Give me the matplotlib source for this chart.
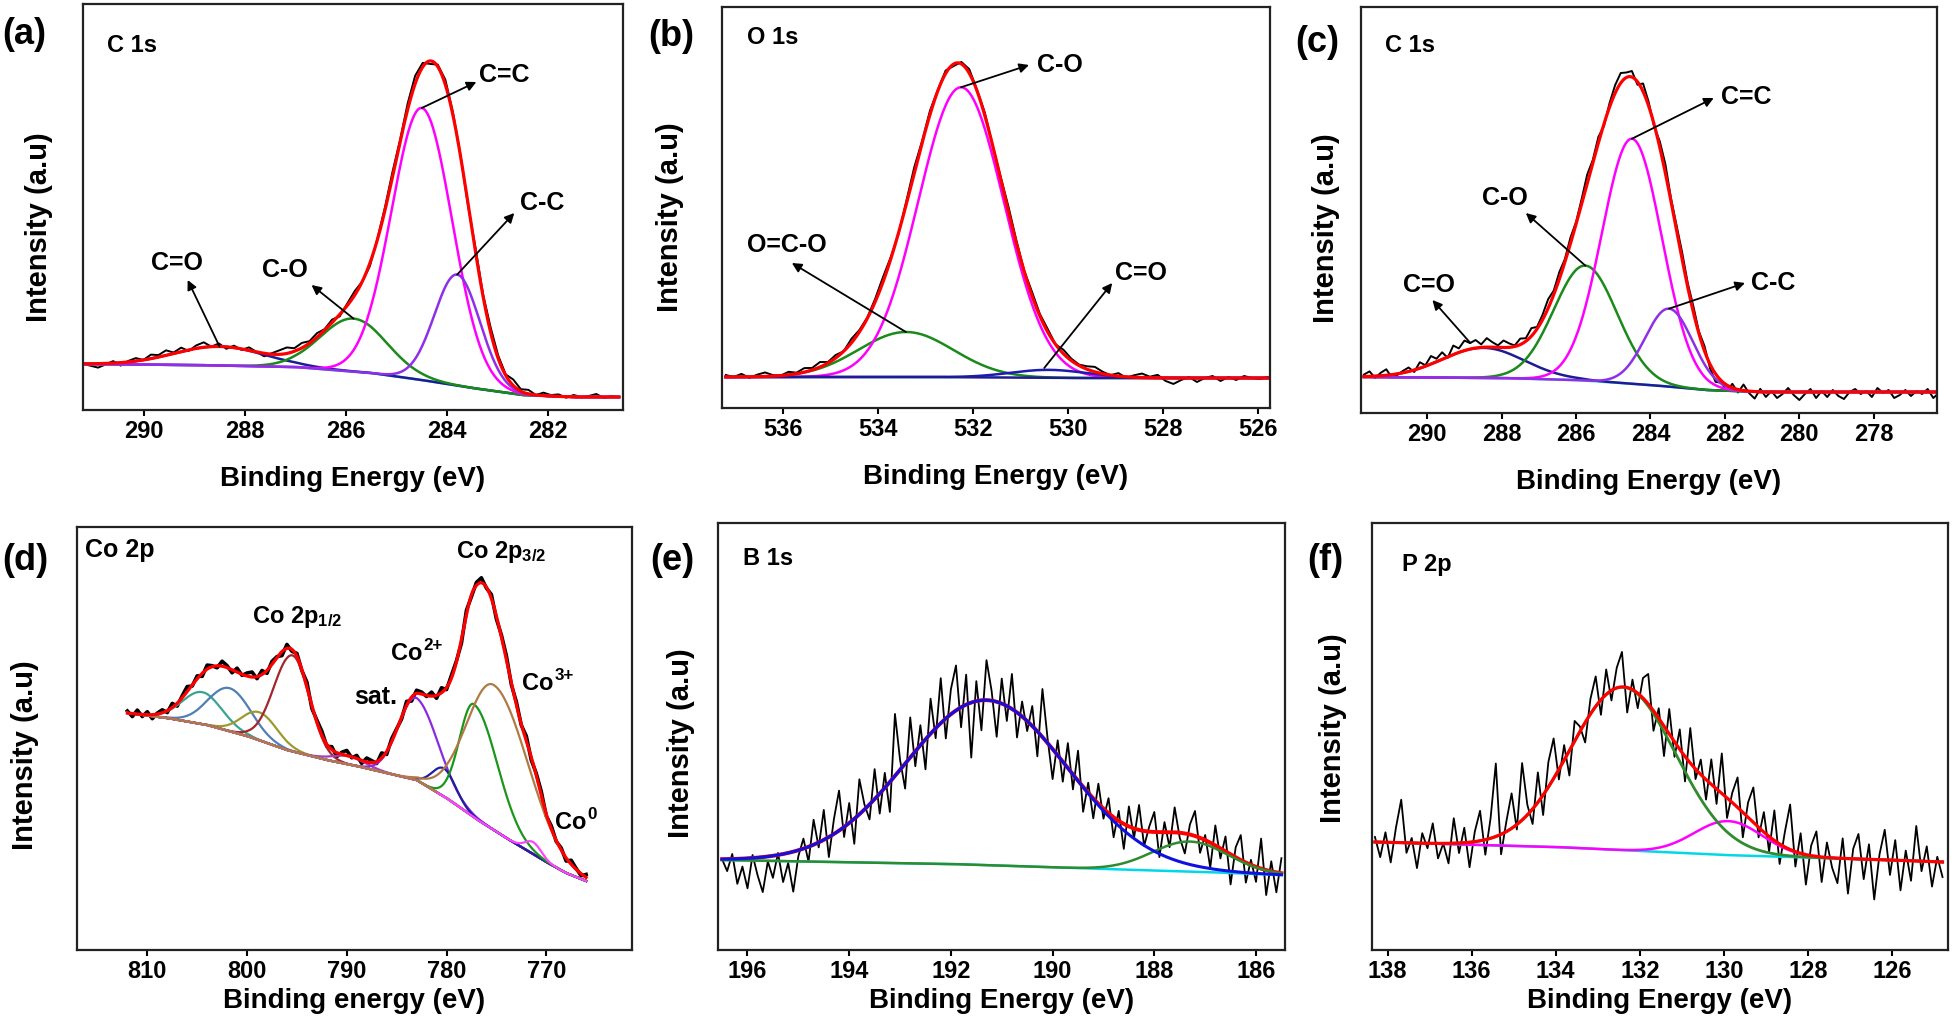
import numpy as np
import matplotlib
matplotlib.use('Agg')
import matplotlib.pyplot as plt

plt.rcParams['font.family'] = ['Liberation Sans', 'DejaVu Sans']
plt.rcParams['font.weight'] = 'bold'
plt.rcParams['axes.labelweight'] = 'bold'
plt.rcParams['mathtext.fontset'] = 'custom'
plt.rcParams['mathtext.rm'] = 'Liberation Sans:bold'
plt.rcParams['mathtext.bf'] = 'Liberation Sans:bold'
plt.rcParams['mathtext.it'] = 'Liberation Sans:bold'
plt.rcParams['mathtext.default'] = 'rm'

# ---------------- data ----------------
# (a) C 1s
a_range = (291.2, 280.6)
a_bg_x = [291.2, 289.0, 287.0, 285.5, 284.5, 283.5, 282.5, 281.5, 280.6]
a_bg_y = [46, 45, 43, 37, 30, 22, 15, 13, 13]
a_names = ['C=O', 'C-O', 'C=C', 'C-C']
a_centers = [288.5, 285.85, 284.5, 283.8]
a_amps = [19, 53, 272, 111]
a_fwhm = [2.1, 1.55, 1.41, 1.06]
a_resid = [0, -2, -4, -1, 2, -3, 1, 3, 0, 4,
           2, 5, 1, 4, -1, 3, 5, 0, 3, -2,
           2, -1, 3, 0, -3, 1, 4, 6, 3, 5,
           2, 4, 1, 3, -2, 2, 4, 0, -3, 1,
           3, 5, 2, 6, 8, 4, -3, 2, 5, 3,
           1, -2, 4, 2, 5, 3, 1, 6, 2, 4,
           0, 3, 1, 2, -1, 2, 0, 1, 3, -1, 1, 0]

# (b) O 1s
b_range = (537.2, 525.8)
b_bg_x = [537.2, 533.0, 530.0, 525.8]
b_bg_y = [31, 31, 30, 30]
b_names = ['O=C-O', 'C-O', 'C=O']
b_centers = [533.41, 532.25, 530.4]
b_amps = [45, 290, 8]
b_fwhm = [2.35, 2.12, 1.9]
b_resid = [2, 0, 3, -1, 2, 4, 1, 0, 3, 1, 4, 2, 5, 1, 3, 0, 4, 2, 1, 3,
           5, 2, -1, 3, 6, 2, 4, 1, 3, -2, 2, 4, 1, 3, 0, 2, 5, 3, 1, 4,
           2, 3, 0, 4, 2, 1, 3, 5, 2, 0, 3, -1, 2, 4, 1, 3, -3, -6, -2, 1,
           -4, 0, 2, -3, 1, -2, 2, 0, -1, 1]

# (c) C 1s
c_range = (291.7, 276.1)
c_bg_x = [291.7, 288.0, 286.0, 284.0, 282.5, 281.0, 276.1]
c_bg_y = [36, 35, 33, 28, 23, 21, 21]
c_names = ['C=O', 'C-O', 'C=C', 'C-C']
c_centers = [288.5, 285.75, 284.5, 283.5]
c_amps = [30, 115, 245, 78]
c_fwhm = [2.6, 2.0, 1.9, 1.5]
c_resid = [2, 5, -2, 3, 6, -3, -1, 2,
           4, -2, 6, 1, 8, 3, 7, -1, 9, 4,
           10, 6, 8, 3, 9, 5, 2, 7, 4, 1,
           6, 3, 8, 2, 5, 9, 4, 7, 3, 6,
           2, 5, 9, 3, 6, -2, 4, 8, 10, 5,
           6, -3, 8, 4, -2, 6, 9, 3, 5, 7,
           4, 6, 2, 5, -4, -8, -2, -6, 4, -3,
           6, -2, -7, 3, -5, 1, -6, -2, 4, -3,
           -8, -2, 3, -6, 1, -5, 2, -4, -7, 0,
           3, -2, 1, -5, 4, -1, 2, -6, -3, 2,
           -4, 1, -2, 3, -6, -1, 2]

# (d) Co 2p
d_range = (812.0, 766.0)
d_bg_x = [812, 808, 804, 800, 796, 792, 789, 786, 783, 780, 777, 774, 772, 770, 768, 766]
d_bg_y = [237, 232, 225, 214, 200, 190, 184, 177, 170, 152, 131, 112, 100, 88, 77, 69]
d_centers = [804.5, 801.75, 798.75, 795.45, 789.8, 783.05, 780.25, 777.25, 775.25, 771.3]
d_amps = [32, 43, 28, 96, 8, 82, 28, 113, 145, 12]
d_fwhm_hi = [4.7, 5.0, 4.2, 4.4, 4.0, 4.2, 2.8, 3.4, 6.5, 1.9]
d_fwhm_lo = [4.7, 5.0, 4.2, 4.0, 4.0, 5.2, 2.8, 5.5, 8.0, 1.9]
d_resid = [2, -3, 4, -2, 3, -4, 1, 3, -2, 4, -3, 2, 5, -1, 3, -3, 4, 1, -2, 5,
           2, -3, 4, -1, 3, 5, -2, 4, -3, 3, 1, -4, 4, -2, 3, -1, 5, -3, 2, 4,
           -2, 3, -4, 2, 5, -1, 3, -3, 4, 2, -2, 5, -3, 3, 1, -2, 4, -4, 3, 2,
           -1, 4, -3, 5, -2, 3, 1, -4, 4, -2, 3, 5, -1, 4, -3, 2, 4, -2, 3, -1,
           5, -3, 2, 4, -2, 3, -1, 2, -3, 4, 1, -2, 3]

# (e) B 1s
e_range = (196.5, 185.5)
e_bg_x = [196.5, 192.0, 189.0, 187.0, 185.5]
e_bg_y = [90, 86, 81, 78, 75]
e_centers = [191.3, 187.3]
e_amps = [165, 30]
e_fwhm = [3.75, 1.75]
e_resid = [0, -12, 5, -25, -8, -30, 3, -18, -35, -5, -22, 2, -28, -10, -40, -6,
           10, -15, 25, -5, 30, -20, 15, 40, -10, 20, -25, 35, 5, -15, 30,
           -20, 15, -30, 62, 10, -25, 40, -15, 20, -30, 35, -10, 45, -20, 25,
           45, -20, 30, -55, 20, -30, 40, 10, -35, 25, -15, 35, -25, 15, -10,
           20, -25, 48, 5, -30, 15, -20, 25, -15, 30, -25, 10, -20, 20, -10,
           15, -20, 10, -25, 20, -10, 25, -15, 5, 20, -25, 10, -15, 25, -5,
           -20, 10, 25, -15, 5, -25, 20, -10, 15, -30, 10, 25, -20, 5, -15, 30, -25, 10, -20, 15]

# (f) P 2p
f_range = (138.3, 124.8)
f_bg_x = [138.3, 134.0, 130.0, 126.0, 124.8]
f_bg_y = [108, 103, 95, 90, 88]
f_centers = [132.4, 129.9]
f_amps = [163, 34]
f_fwhm = [2.95, 1.9]
f_resid = [5, -15, 10, -20, 15, 43, -10, 5, -25, 10, -5, 20, -15, 0, -20,
           25, -10, 15, -25, 10, 30, -15, 20, 73, -20, 10, 35, -5,
           57, 10, -15, 30, -20, 25, 40, -10, 15, -25, 20, 5,
           -20, 15, 30, -15, 25, -10, 20, 35, -25, 10, -15, 20,
           30, -20, 10, -30, 25, -15, 20, -25, 35, -10, 15, -20,
           25, -15, 40, -20, 10, 30, -25, 15, 35, -10, 20, -15,
           30, -20, 15, 45, -15, 20, -30, 10, 25, -25, 15, -10,
           -25, 20, -35, 10, 25, -20, 15, -40, 5, 30, -15, 20, -30, 10, -20, 35, -10, 15, -25, 5, -15]


def peak(x, c, a, w_hi, w_lo=None):
    if w_lo is None:
        w_lo = w_hi
    w = np.where(x >= c, w_hi, w_lo)
    return a * np.exp(-4 * np.log(2) * ((x - c) / w) ** 2)


def bg(x, bx, by):
    return np.interp(x, bx[::-1], by[::-1])


def style(ax, xlim, ytop, ticks, xlabel, xl_y, yl_x, yl_y):
    ax.set_xlim(xlim)
    ax.set_ylim(0, ytop)
    ax.set_xticks(ticks)
    ax.set_yticks([])
    for s in ax.spines.values():
        s.set_linewidth(1.6)
        s.set_color('#222222')
    ax.tick_params(axis='x', direction='out', length=4.5, width=1.5, labelsize=17, pad=3)
    for t in ax.get_xticklabels():
        t.set_fontweight('bold')
    ax.set_xlabel(xlabel, fontsize=20, fontweight='bold')
    ax.xaxis.set_label_coords(0.5, xl_y)
    ax.set_ylabel('Intensity (a.u)', fontsize=21, fontweight='bold')
    ax.yaxis.set_label_coords(yl_x, yl_y)


def arrow(ax, text, tail, head, tpos, ha='center', size=18):
    ax.annotate('', xy=head, xytext=tail,
                arrowprops=dict(arrowstyle='-|>', color='black', lw=1.3,
                                mutation_scale=14, shrinkA=0, shrinkB=0))
    ax.text(tpos[0], tpos[1], text, ha=ha, va='center', fontsize=size, fontweight='bold')


W, H = 1954, 1021
fig = plt.figure(figsize=(W / 100, H / 100), dpi=100)
renderer = fig.canvas.get_renderer()


def sup_text(ax, x, y, main, sup, size=17):
    # main text, then a small raised part placed right after it
    t = ax.text(x, y, main, fontsize=size, fontweight='bold', va='center')
    bb = t.get_window_extent(renderer)
    ax.annotate(sup, xy=(bb.x1 + 1, bb.y1 - 0.22 * size), xycoords='figure pixels',
                fontsize=size * 0.72, fontweight='bold', va='center', ha='left')


def box(l, r, t, b):
    return [l / W, 1 - b / H, (r - l) / W, (b - t) / H]


# ---------------- (a) ----------------
ax = fig.add_axes(box(83, 623, 4, 410))
xs = np.linspace(a_range[0], a_range[1], 600)
base = bg(xs, a_bg_x, a_bg_y)
env = base + sum(peak(xs, c, a, w) for c, a, w in zip(a_centers, a_amps, a_fwhm))
xr = np.linspace(a_range[0], a_range[1], len(a_resid))
raw = bg(xr, a_bg_x, a_bg_y) + sum(peak(xr, c, a, w) for c, a, w in zip(a_centers, a_amps, a_fwhm)) + np.array(a_resid)
ax.plot(xr, raw, color='black', lw=1.4)
ax.plot(xs, base, color='#40d8e0', lw=1.8)
a_cols = ['#1c1c94', '#1a8a1a', '#ff00ff', '#8f2fe8']
for c, a, w, col in zip(a_centers, a_amps, a_fwhm, a_cols):
    ax.plot(xs, base + peak(xs, c, a, w), color=col, lw=1.8)
ax.plot(xs, env, color='#ff0000', lw=2.3)
tops = [(c, bg(np.array([c]), a_bg_x, a_bg_y)[0] + a) for c, a in zip(a_centers, a_amps)]
arrow(ax, 'C=O', tops[0], (289.13, 130), (289.35, 147))
arrow(ax, 'C-O', tops[1], (286.68, 125), (287.21, 140))
arrow(ax, 'C=C', tops[2], (283.42, 328), (283.36, 335), ha='left')
arrow(ax, 'C-C', tops[3], (282.67, 197), (282.55, 207), ha='left')
ax.text(0.044, 0.899, 'C 1s', transform=ax.transAxes, fontsize=17, fontweight='bold', va='center')
style(ax, (291.2, 280.52), 406, [290, 288, 286, 284, 282], 'Binding Energy (eV)', -0.138, -0.055, 0.45)

# ---------------- (b) ----------------
ax = fig.add_axes(box(722, 1270, 7, 408))
xs = np.linspace(b_range[0], b_range[1], 600)
base = bg(xs, b_bg_x, b_bg_y)
env = base + sum(peak(xs, c, a, w) for c, a, w in zip(b_centers, b_amps, b_fwhm))
xr = np.linspace(b_range[0], b_range[1], len(b_resid))
raw = bg(xr, b_bg_x, b_bg_y) + sum(peak(xr, c, a, w) for c, a, w in zip(b_centers, b_amps, b_fwhm)) + np.array(b_resid)
ax.plot(xr, raw, color='black', lw=1.4)
b_cols = ['#1a8a1a', '#ff00ff', '#1c1cb0']
for c, a, w, col in zip(b_centers, b_amps, b_fwhm, b_cols):
    ax.plot(xs, base + peak(xs, c, a, w), color=col, lw=1.8)
ax.plot(xs, base, color='#1c1c94', lw=1.8)
ax.plot(xs, env, color='#ff0000', lw=2.3)
tops = [(c, bg(np.array([c]), b_bg_x, b_bg_y)[0] + a) for c, a in zip(b_centers, b_amps)]
arrow(ax, 'O=C-O', tops[0], (535.81, 145), (535.92, 163))
arrow(ax, 'C-O', tops[1], (530.82, 343), (530.66, 343), ha='left')
arrow(ax, 'C=O', (530.5, 40), (529.07, 125), (528.46, 135))
ax.text(0.046, 0.923, 'O 1s', transform=ax.transAxes, fontsize=17, fontweight='bold', va='center')
style(ax, (537.28, 525.75), 401, [536, 534, 532, 530, 528, 526], 'Binding Energy (eV)', -0.14, -0.070, 0.476)

# ---------------- (c) ----------------
ax = fig.add_axes(box(1361, 1937, 7, 413))
xs = np.linspace(c_range[0], c_range[1], 800)
base = bg(xs, c_bg_x, c_bg_y)
env = base + sum(peak(xs, c, a, w) for c, a, w in zip(c_centers, c_amps, c_fwhm))
xr = np.linspace(c_range[0], c_range[1], len(c_resid))
raw = bg(xr, c_bg_x, c_bg_y) + sum(peak(xr, c, a, w) for c, a, w in zip(c_centers, c_amps, c_fwhm)) + np.array(c_resid)
ax.plot(xr, raw, color='black', lw=1.4)
ax.plot(xs, base, color='#40d8e0', lw=1.8)
c_cols = ['#1c1c94', '#1a8a1a', '#ff00ff', '#8f2fe8']
for c, a, w, col in zip(c_centers, c_amps, c_fwhm, c_cols):
    ax.plot(xs, base + peak(xs, c, a, w), color=col, lw=1.8)
ax.plot(xs, env, color='#ff0000', lw=2.3)
tops = [(c, bg(np.array([c]), c_bg_x, c_bg_y)[0] + a) for c, a in zip(c_centers, c_amps)]
arrow(ax, 'C=O', (288.84, 70), (289.86, 113), (289.95, 128))
arrow(ax, 'C-O', tops[1], (287.35, 200), (287.9, 215))
arrow(ax, 'C=C', tops[2], (282.3, 315), (282.1, 316), ha='left')
arrow(ax, 'C-C', tops[3], (281.46, 130), (281.3, 130), ha='left')
ax.text(0.042, 0.906, 'C 1s', transform=ax.transAxes, fontsize=17, fontweight='bold', va='center')
style(ax, (291.78, 276.3), 406, [290, 288, 286, 284, 282, 280, 278], 'Binding Energy (eV)', -0.138, -0.037, 0.456)

# ---------------- (d) ----------------
ax = fig.add_axes(box(77, 632, 527, 950))
xs = np.linspace(d_range[0], d_range[1], 800)
base = bg(xs, d_bg_x, d_bg_y)
comps = [peak(xs, c, a, wh, wl) for c, a, wh, wl in zip(d_centers, d_amps, d_fwhm_hi, d_fwhm_lo)]
env = base + sum(comps)
xr = np.linspace(d_range[0], d_range[1], len(d_resid))
raw = bg(xr, d_bg_x, d_bg_y) + sum(peak(xr, c, a, wh, wl) for c, a, wh, wl in
                                    zip(d_centers, d_amps, d_fwhm_hi, d_fwhm_lo)) + np.array(d_resid)
ax.plot(xr, raw, color='black', lw=2.6)
ax.plot(xs, base, color='#3aa58f', lw=1.6)
d_cols = ['#3aa58f', '#4f7fb5', '#9c9a2e', '#a3262c', '#a040c0', '#8a2be2', '#1f1f9f', '#1a961a', '#b07a45', '#ff44ff']
for comp, col in zip(comps, d_cols):
    ax.plot(xs, base + comp, color=col, lw=1.6)
left = xs >= 781
ax.plot(xs[left], base[left], color='#b07a45', lw=1.6)
ax.plot(xs, env, color='#ff0000', lw=2.3)
style(ax, (817.05, 761.4), 423, [810, 800, 790, 780, 770], 'Binding energy (eV)', -0.09, -0.068, 0.46)
ax.text(0.014, 0.946, 'Co 2p', transform=ax.transAxes, fontsize=18, fontweight='bold', va='center')
ax.text(799.55, 333, r'Co 2p$_{1/2}$', fontsize=17, fontweight='bold', va='center')
ax.text(789.25, 253, 'sat.', fontsize=18, fontweight='bold', va='center')
ax.text(779.05, 398, r'Co 2p$_{3/2}$', fontsize=17, fontweight='bold', va='center')
sup_text(ax, 785.55, 297, 'Co', '2+')
sup_text(ax, 772.45, 267, 'Co', '3+')
sup_text(ax, 769.15, 128, 'Co', '0')

# ---------------- (e) ----------------
ax = fig.add_axes(box(718, 1285, 523, 950))
xs = np.linspace(e_range[0], e_range[1], 600)
base = bg(xs, e_bg_x, e_bg_y)
comps = [peak(xs, c, a, w) for c, a, w in zip(e_centers, e_amps, e_fwhm)]
xr = np.linspace(e_range[0], e_range[1], len(e_resid))
raw = bg(xr, e_bg_x, e_bg_y) + sum(peak(xr, c, a, w) for c, a, w in zip(e_centers, e_amps, e_fwhm)) + np.array(e_resid)
ax.plot(xr, raw, color='black', lw=1.3)
ax.plot(xs, base, color='#00d8e8', lw=1.8)
ax.plot(xs, base + comps[0] + comps[1], color='#ff0000', lw=2.8)
ax.plot(xs, base + comps[1], color='#2e8b2e', lw=1.8)
ax.plot(xs, base + comps[0], color='#1010e0', lw=2.2)
ax.text(0.044, 0.916, 'B 1s', transform=ax.transAxes, fontsize=17, fontweight='bold', va='center')
style(ax, (196.58, 185.43), 427, [196, 194, 192, 190, 188, 186], 'Binding Energy (eV)', -0.09, -0.041, 0.485)

# ---------------- (f) ----------------
ax = fig.add_axes(box(1372, 1948, 523, 950))
xs = np.linspace(f_range[0], f_range[1], 600)
base = bg(xs, f_bg_x, f_bg_y)
comps = [peak(xs, c, a, w) for c, a, w in zip(f_centers, f_amps, f_fwhm)]
xr = np.linspace(f_range[0], f_range[1], len(f_resid))
raw = bg(xr, f_bg_x, f_bg_y) + sum(peak(xr, c, a, w) for c, a, w in zip(f_centers, f_amps, f_fwhm)) + np.array(f_resid)
ax.plot(xr, raw, color='black', lw=1.3)
ax.plot(xs, base, color='#00d8e8', lw=1.8)
ax.plot(xs, base + comps[1], color='#ff00ff', lw=1.8)
ax.plot(xs, base + comps[0], color='#2e8b2e', lw=2.0)
ax.plot(xs, base + comps[0] + comps[1], color='#ff0000', lw=2.3)
ax.text(0.052, 0.902, 'P 2p', transform=ax.transAxes, fontsize=17, fontweight='bold', va='center')
style(ax, (138.37, 124.67), 427, [138, 136, 134, 132, 130, 128, 126], 'Binding Energy (eV)', -0.09, -0.044, 0.52)

# panel letters
for txt, px, py in [('(a)', 2, 35), ('(b)', 648, 36), ('(c)', 1295, 43),
                    ('(d)', 2, 560), ('(e)', 650, 561), ('(f)', 1307, 561)]:
    fig.text(px / W, 1 - py / H, txt, ha='left', va='center', fontsize=26, fontweight='bold')

fig.savefig('out.png', dpi=100)
